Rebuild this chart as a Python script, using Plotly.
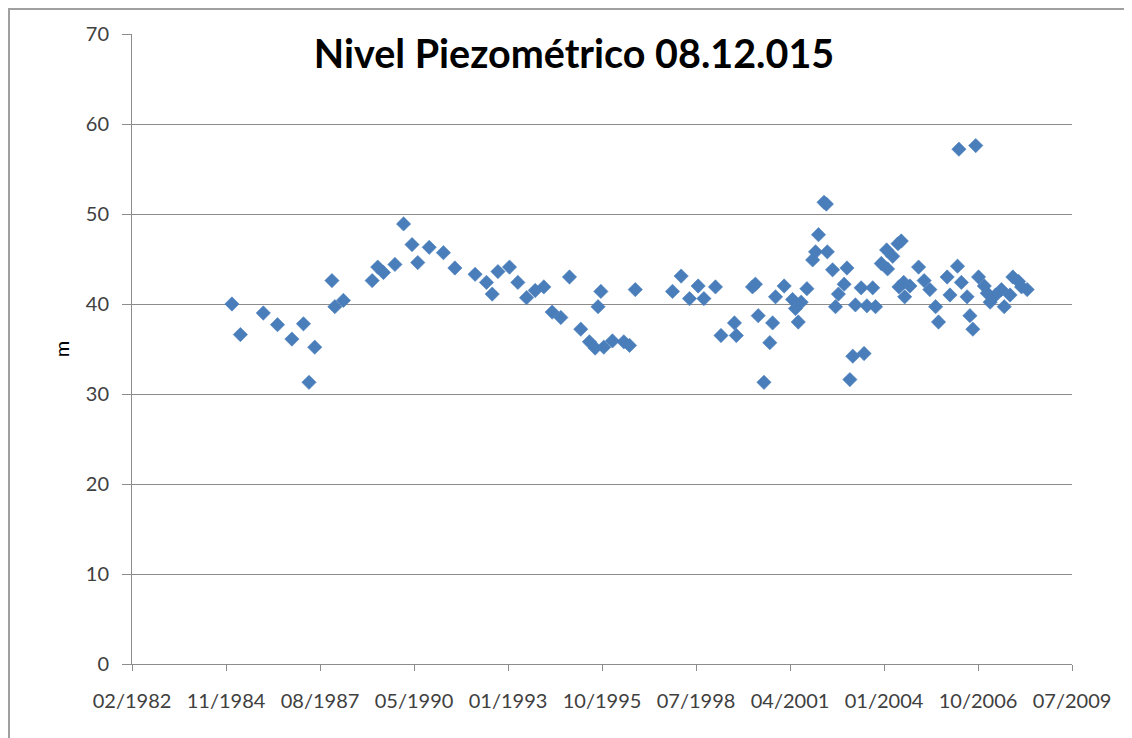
import pandas as pd
import plotly.graph_objects as go

# ---- data ----
dates = [
    "1985-01-15", "1985-04-15", "1985-12-15", "1986-05-15", "1986-10-15",
    "1987-02-15", "1987-04-15", "1987-06-15", "1987-12-15", "1988-01-15",
    "1988-04-15", "1989-02-15", "1989-04-15", "1989-06-15", "1989-10-15",
    "1990-01-15", "1990-04-15", "1990-06-15", "1990-10-15", "1991-03-15",
    "1991-07-15", "1992-02-15", "1992-06-15", "1992-08-15", "1992-10-15",
    "1993-02-15", "1993-05-15", "1993-08-15", "1993-11-15", "1994-02-15",
    "1994-05-15", "1994-08-15", "1994-11-15", "1995-03-15", "1995-06-15",
    "1995-08-15", "1995-09-15", "1995-10-15", "1995-11-15", "1996-02-15",
    "1996-06-15", "1996-08-15", "1996-10-15", "1997-11-15", "1998-02-15",
    "1998-05-15", "1998-08-15", "1998-10-15", "1999-02-15", "1999-04-15",
    "1999-09-05", "1999-09-25", "2000-03-15", "2000-04-15", "2000-05-15",
    "2000-07-15", "2000-09-15", "2000-10-15", "2000-11-15", "2001-02-15",
    "2001-05-15", "2001-06-15", "2001-07-15", "2001-08-15", "2001-10-15",
    "2001-12-15", "2002-01-15", "2002-02-15", "2002-04-15", "2002-05-10",
    "2002-05-20", "2002-07-15", "2002-08-15", "2002-09-15", "2002-11-15",
    "2002-12-15", "2003-01-15", "2003-02-15", "2003-03-15", "2003-05-15",
    "2003-06-15", "2003-07-15", "2003-09-15", "2003-10-15", "2003-12-15",
    "2004-02-10", "2004-02-20", "2004-04-15", "2004-06-10", "2004-07-15",
    "2004-06-20", "2004-08-10", "2004-08-20", "2004-10-15", "2005-01-15",
    "2005-03-15", "2005-05-15", "2005-07-15", "2005-08-15", "2005-11-15",
    "2005-12-15", "2006-03-05", "2006-03-20", "2006-04-15", "2006-06-15",
    "2006-07-15", "2006-08-15", "2006-09-15", "2006-10-15", "2006-12-15",
    "2007-01-15", "2007-02-15", "2007-04-15", "2007-06-15", "2007-07-15",
    "2007-09-15", "2007-10-15", "2007-12-15", "2008-01-15", "2008-03-15",
]
levels = [
    40.0, 36.6, 39.0, 37.7, 36.1,
    37.8, 31.3, 35.2, 42.6, 39.7,
    40.4, 42.6, 44.1, 43.5, 44.4,
    48.9, 46.6, 44.6, 46.3, 45.7,
    44.0, 43.3, 42.4, 41.1, 43.6,
    44.1, 42.4, 40.7, 41.5, 41.9,
    39.1, 38.5, 43.0, 37.2, 35.8,
    35.1, 39.7, 41.4, 35.2, 35.9,
    35.8, 35.4, 41.6, 41.4, 43.1,
    40.6, 42.0, 40.6, 41.9, 36.5,
    37.9, 36.5, 41.9, 42.2, 38.7,
    31.3, 35.7, 37.9, 40.8, 42.0,
    40.5, 39.5, 38.0, 40.2, 41.7,
    44.9, 45.8, 47.7, 51.3, 51.1,
    45.8, 43.8, 39.7, 41.1, 42.2,
    44.0, 31.6, 34.2, 39.9, 41.8,
    34.5, 39.8, 41.8, 39.7, 44.5,
    46.0, 43.9, 45.3, 46.7, 47.0,
    41.9, 42.4, 40.8, 42.0, 44.1,
    42.6, 41.6, 39.7, 38.0, 43.0,
    41.0, 44.2, 57.2, 42.4, 40.8,
    38.7, 37.2, 57.6, 43.0, 42.0,
    41.2, 40.2, 41.0, 41.6, 39.7,
    41.0, 43.0, 42.5, 41.9, 41.6,
]
x_tick_labels = ["02/1982", "11/1984", "08/1987", "05/1990", "01/1993",
                 "10/1995", "07/1998", "04/2001", "01/2004", "10/2006", "07/2009"]
y_ticks = [0, 10, 20, 30, 40, 50, 60, 70]

title_text = "Nivel Piezométrico 08.12.015"
y_title = "m"

# Excel-style date axis: major unit of 1000 days starting at 17 Feb 1982
axis_start = pd.Timestamp("1982-02-17")
tick_vals = [axis_start + pd.Timedelta(days=1000 * i) for i in range(len(x_tick_labels))]

x = pd.to_datetime(dates)

W, H = 1124, 730          # page has an 8px body margin
L, R, T, B = 124, 60, 26, 74
PW, PH = W - L - R, H - T - B

fig = go.Figure()
fig.add_trace(go.Scatter(
    x=x, y=levels, mode="markers",
    marker=dict(symbol="diamond", size=11, color="#4a7ebb",
                line=dict(width=0.6, color="#4a7ebb")),
    showlegend=False,
))

grid_col = "#8c8c8c"
font_fam = "Lato, 'Open Sans', sans-serif"

fig.update_layout(
    width=W, height=H,
    margin=dict(l=L, r=R, t=T, b=B),
    paper_bgcolor="white", plot_bgcolor="white",
    font=dict(family=font_fam, size=20, color="#404040"),
    title=dict(text="<b>" + title_text + "</b>", x=566 / W, xanchor="center",
               y=1 - 46 / H, yanchor="middle", yref="container", xref="container",
               font=dict(family=font_fam, size=39.5, color="#000000")),
    xaxis=dict(
        range=[tick_vals[0], tick_vals[-1]],
        tickmode="array", tickvals=tick_vals, ticktext=x_tick_labels,
        showgrid=False, showline=True, linecolor=grid_col, linewidth=1,
        ticks="outside", ticklen=6, tickcolor=grid_col,
        tickfont=dict(size=20, color="#404040"), ticklabelstandoff=13,
        zeroline=False,
    ),
    yaxis=dict(
        range=[0, 70], tickmode="array", tickvals=y_ticks,
        showgrid=True, gridcolor=grid_col, gridwidth=1,
        showline=True, linecolor=grid_col, linewidth=1,
        ticks="outside", ticklen=9, tickcolor=grid_col,
        tickfont=dict(size=20, color="#404040"), ticklabelstandoff=9,
        zeroline=False,
        title=dict(text=y_title, font=dict(size=20, color="#000000"), standoff=10),
    ),
    shapes=[dict(type="rect", xref="paper", yref="paper",
                 x0=(1 - L) / PW, x1=(1119 - L) / PW,
                 y0=-(B + 20) / PH, y1=1 + (T - 1) / PH,
                 line=dict(color="#a0a0a0", width=2), fillcolor="rgba(0,0,0,0)", layer="below")],
)

fig.write_html("out.html")
